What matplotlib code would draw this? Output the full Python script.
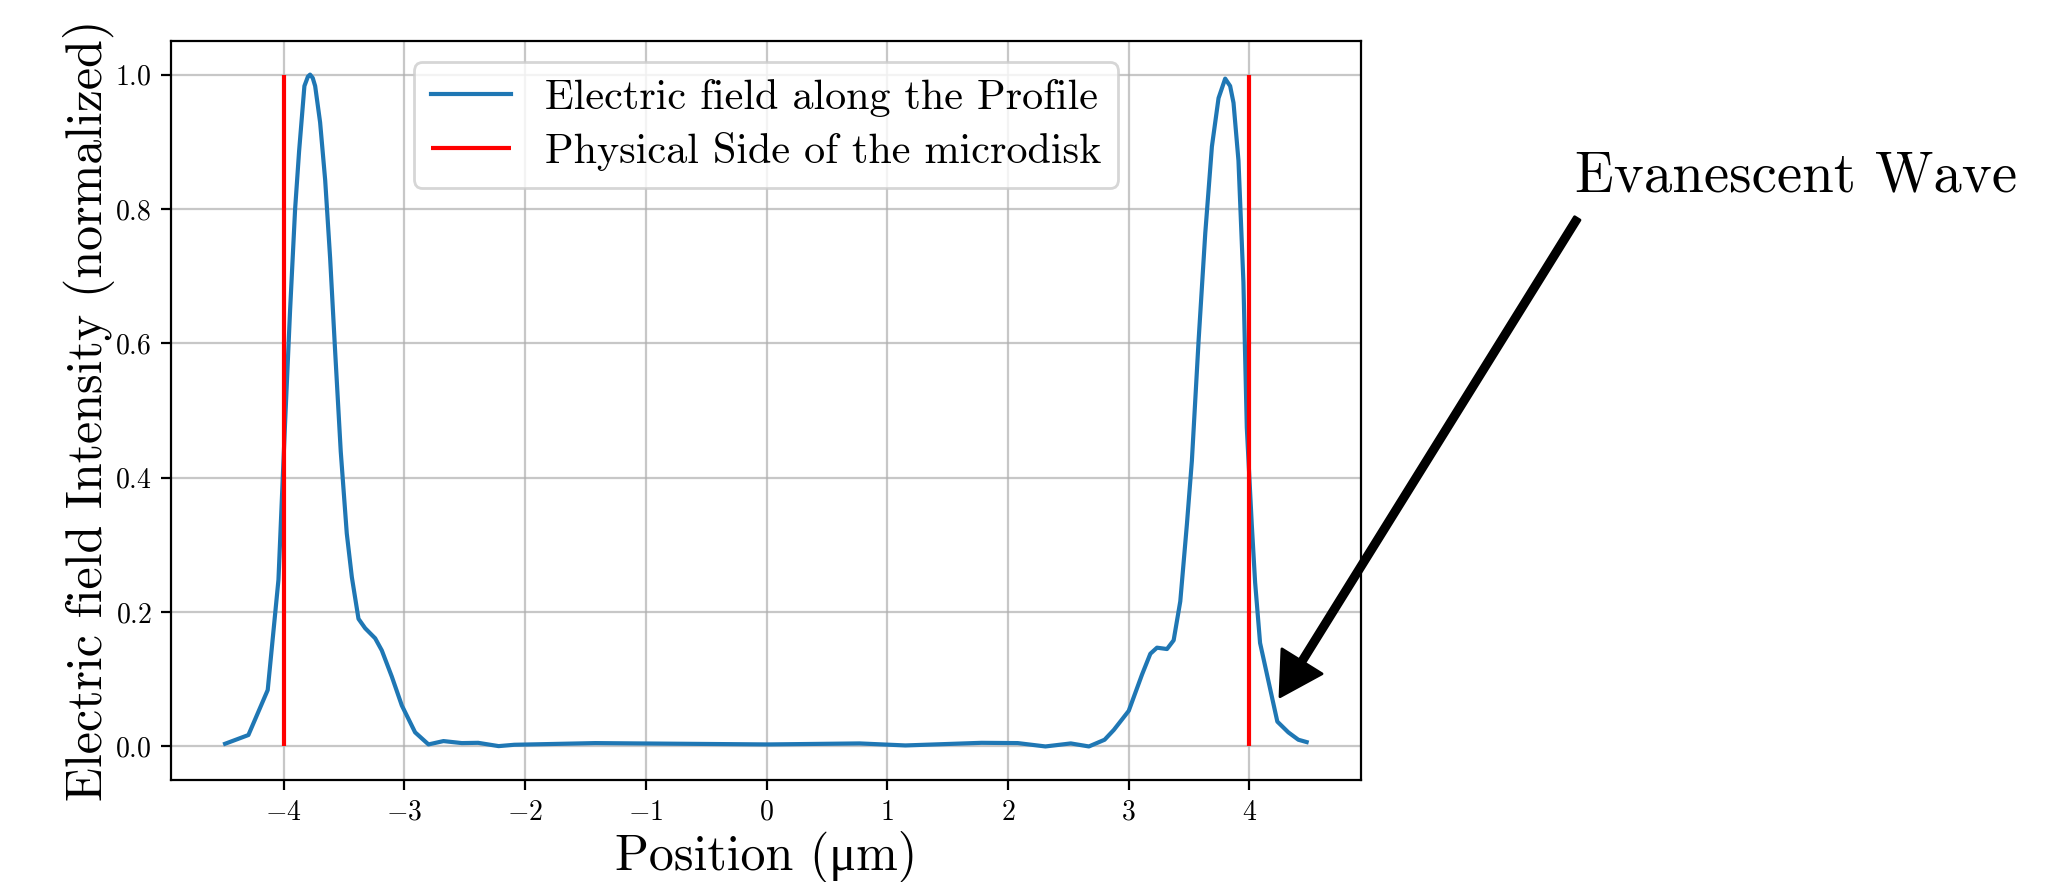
import matplotlib
matplotlib.use("Agg")
import matplotlib.pyplot as plt

plt.rcParams["font.family"] = ["cmr10", "Liberation Serif"]
plt.rcParams["mathtext.fontset"] = "cm"
plt.rcParams["axes.formatter.use_mathtext"] = True

# profile (position in um, normalized intensity)
position = [-4.486, -4.293, -4.133, -4.044, -3.989, -3.948, -3.906, -3.873, -3.829,
            -3.800, -3.782, -3.760, -3.740, -3.699, -3.657, -3.616, -3.575, -3.528,
            -3.478, -3.436, -3.381, -3.326, -3.243, -3.188, -3.105, -3.022, -2.912,
            -2.801, -2.677, -2.525, -2.39, -2.22, -2.09, -1.42, 0.01, 0.77, 1.15,
            1.78, 2.08, 2.31, 2.52, 2.67, 2.80, 2.876, 3.0, 3.110, 3.179, 3.234,
            3.317, 3.372, 3.427, 3.482, 3.523, 3.579, 3.634, 3.689, 3.744, 3.799,
            3.840, 3.868, 3.909, 3.950, 3.978, 4.019, 4.047, 4.088, 4.231, 4.322,
            4.405, 4.474]
intensity = [0.004, 0.017, 0.084, 0.248, 0.482, 0.648, 0.80, 0.886, 0.983,
             0.997, 1.0, 0.995, 0.983, 0.929, 0.843, 0.727, 0.590, 0.439,
             0.317, 0.252, 0.190, 0.176, 0.161, 0.143, 0.104, 0.061, 0.021,
             0.003, 0.008, 0.005, 0.0054, 0.0005, 0.0025, 0.005, 0.003, 0.0045, 0.0015,
             0.0054, 0.005, 0.0, 0.0045, 0.0, 0.01, 0.0245, 0.053, 0.107, 0.138, 0.147,
             0.145, 0.158, 0.216, 0.331, 0.425, 0.605, 0.764, 0.893, 0.965, 0.994,
             0.983, 0.958, 0.872, 0.691, 0.475, 0.331, 0.244, 0.154, 0.037, 0.021,
             0.010, 0.0065]
disk_edges = [-4, 4]
xticks = [-4, -3, -2, -1, 0, 1, 2, 3, 4]

fig = plt.figure(figsize=(10.34, 4.41), dpi=200)
ax = fig.add_axes([0.0827, 0.1156, 0.5753, 0.8379])

ax.plot(position, intensity, color="tab:blue", lw=1.5,
        label="Electric field along the Profile")
ax.vlines(disk_edges, 0, 1, colors="red", lw=1.5,
          label="Physical Side of the microdisk")

ax.set_xticks(xticks)
ax.grid(True, alpha=0.7)
ax.tick_params(labelsize=10)
ax.set_xlabel("Position (\u03bcm)", fontsize=18, labelpad=2)
ax.set_ylabel("Electric field Intensity (normalized)", fontsize=18, labelpad=0)
ax.legend(loc="upper center", fontsize=15.2, labelspacing=0.35,
          handlelength=1.9)

# arrow and label drawn separately so the tail sits just under the text
ax.annotate("", xy=(4.253, 0.074), xytext=(6.716, 0.786),
            arrowprops=dict(facecolor="black", shrink=0,
                            width=2.3, headwidth=17, headlength=15))
ax.text(6.70, 0.826, "Evanescent Wave", fontsize=20.5, clip_on=False)

fig.savefig("out.png", dpi=200)
